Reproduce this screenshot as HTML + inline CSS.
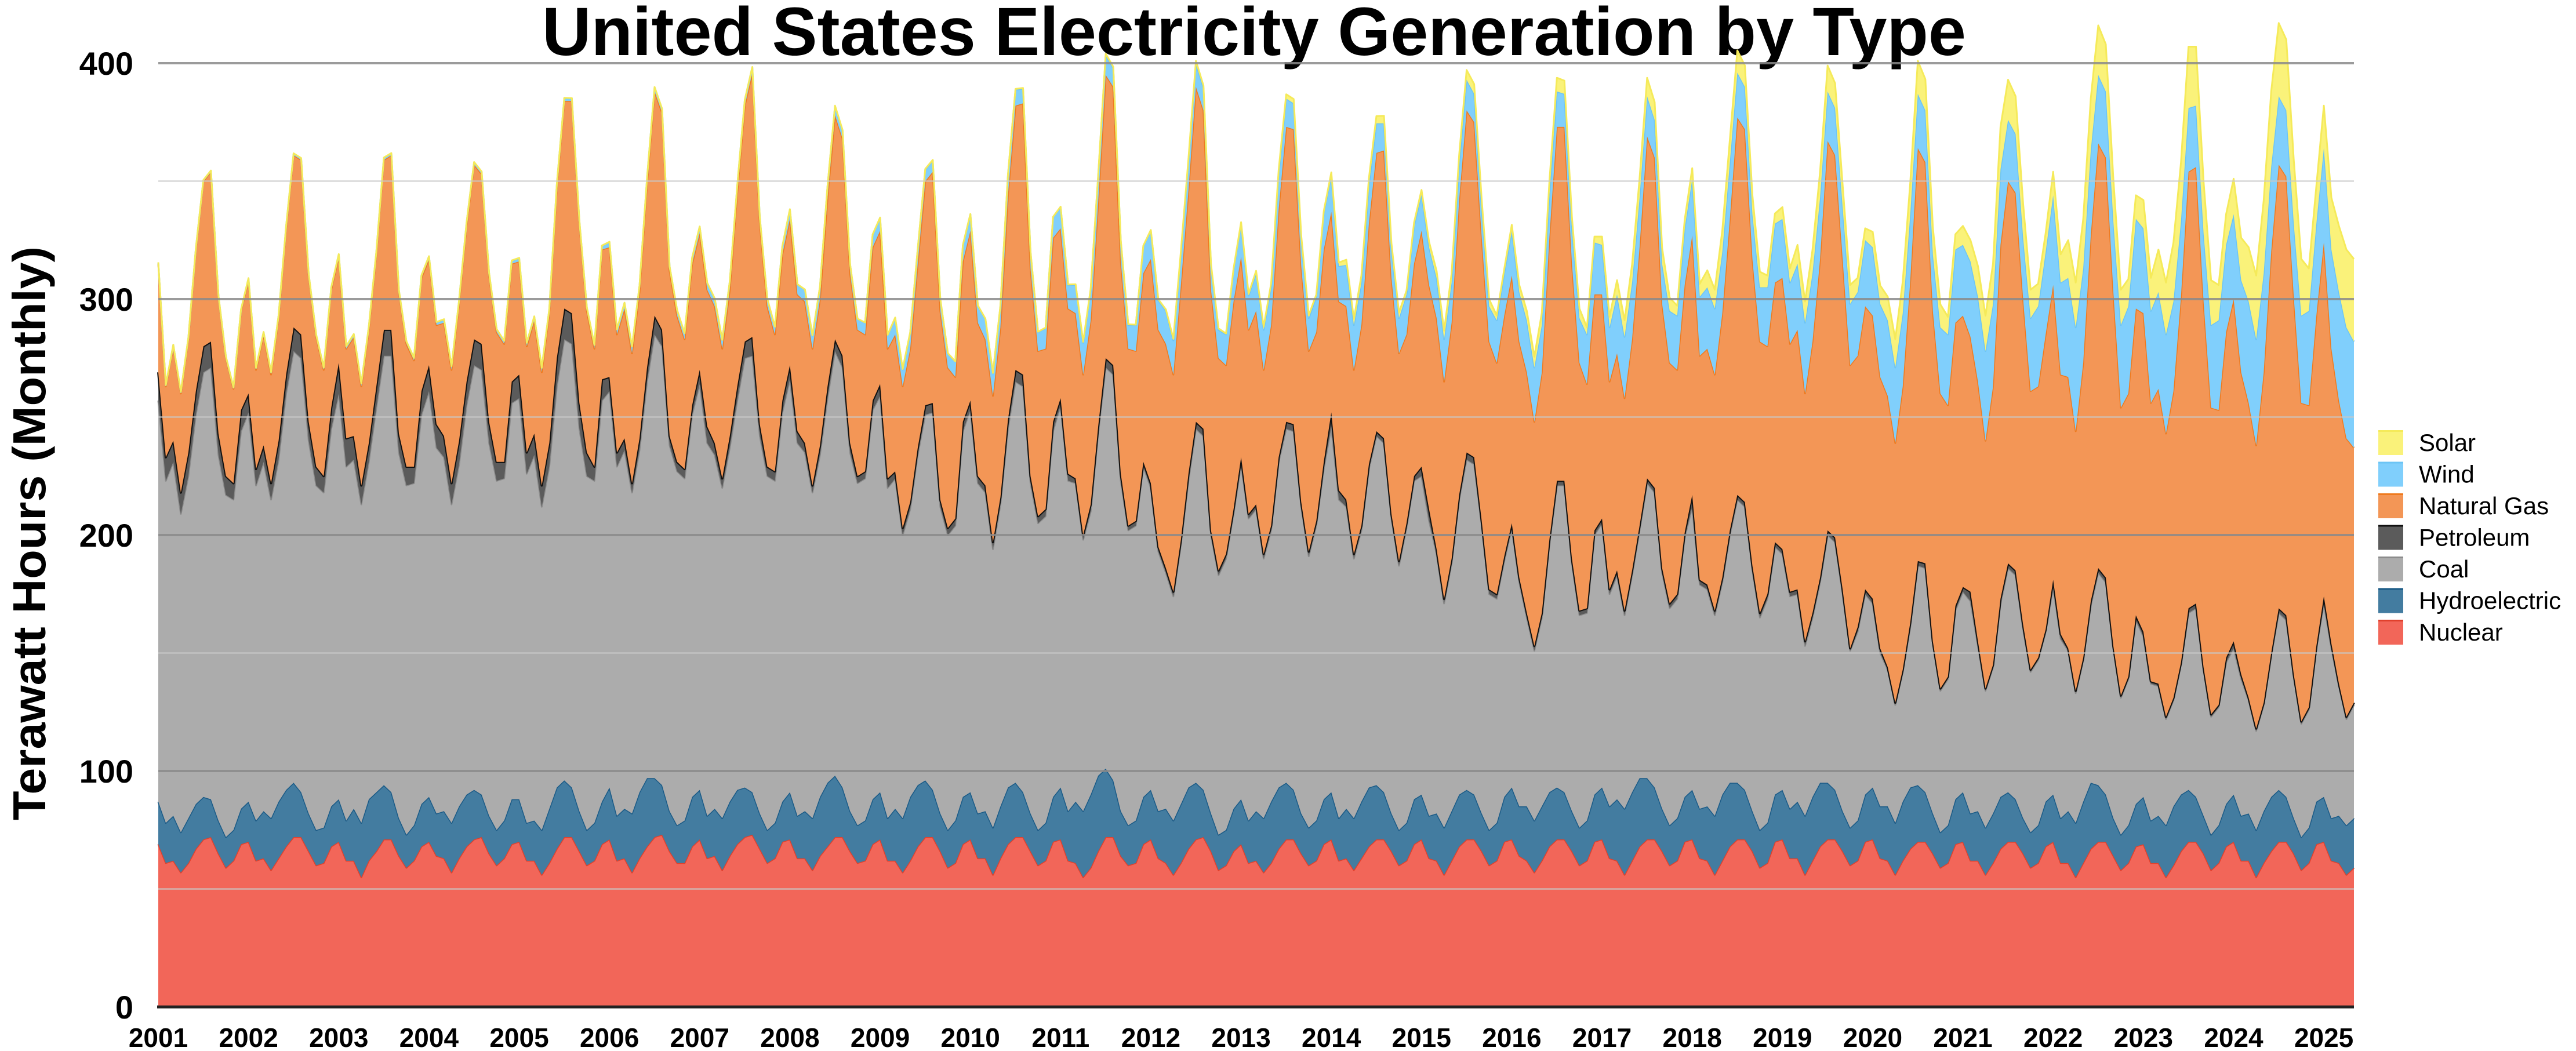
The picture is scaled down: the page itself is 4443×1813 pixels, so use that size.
<!DOCTYPE html>
<html><head><meta charset="utf-8"><style>
html,body{margin:0;padding:0;background:#fff;}
svg{display:block;font-family:"Liberation Sans",Arial,sans-serif;}
</style></head><body>
<svg id="chart" width="4443" height="1813" viewBox="0 0 4443 1813" xmlns="http://www.w3.org/2000/svg">
<text x="2163" y="95" text-anchor="middle" font-size="118" font-weight="bold" textLength="2456" lengthAdjust="spacingAndGlyphs">United States Electricity Generation by Type</text>
<text transform="translate(78,920) rotate(-90)" text-anchor="middle" font-size="80" font-weight="bold" textLength="990" lengthAdjust="spacingAndGlyphs">Terawatt Hours (Monthly)</text>
<g id="areas"></g>
<g id="grid"></g>
<g id="yticks"></g>
<g id="xticks"></g>
<g id="legend"></g>
</svg>
<script>
const seriesNames = ["Nuclear","Hydroelectric","Coal","Petroleum","Natural Gas","Wind","Solar"];
const yTicks = [0,100,200,300,400];
const yearLabels = ["2001","2002","2003","2004","2005","2006","2007","2008","2009","2010","2011","2012","2013","2014","2015","2016","2017","2018","2019","2020","2021","2022","2023","2024","2025"];
const nuclear = [
69,61,62,57,61,67,71,72,65,59,62,69,
70,62,63,58,63,68,72,72,66,60,61,68,
70,62,62,55,62,66,71,71,64,59,62,68,
70,64,63,57,63,68,71,72,65,60,63,69,
70,62,62,56,61,67,72,72,66,60,62,69,
71,62,63,57,63,68,72,73,66,61,61,68,
71,63,64,58,64,69,72,73,67,61,63,70,
71,63,63,58,64,68,72,72,66,61,62,69,
71,62,62,57,62,68,72,72,66,59,61,69,
71,63,63,56,63,69,72,72,66,60,62,70,
71,62,61,55,59,66,72,72,64,60,61,69,
71,63,61,56,61,67,71,72,66,58,60,66,
69,61,62,57,61,67,71,71,65,60,62,69,
71,62,63,58,63,68,71,71,66,60,62,69,
71,63,62,56,62,68,71,71,66,60,62,70,
71,64,62,57,62,68,71,71,66,60,62,70,
71,63,62,56,62,68,71,71,66,60,62,70,
71,63,62,56,62,68,71,71,66,59,61,70,
71,63,63,56,62,68,71,71,66,60,62,70,
71,63,62,56,62,67,70,70,65,59,61,69,
70,62,62,56,61,67,70,70,65,59,61,68,
70,61,61,55,61,67,70,70,64,58,61,68,
69,61,61,55,60,66,70,70,65,58,61,68,
70,62,62,55,61,66,70,70,65,58,61,69,
70,62,61,56,59];
const hydro = [
18,17,19,17,19,19,18,16,14,13,13,15,
17,17,20,22,24,24,23,19,16,15,15,17,
18,17,22,23,26,25,23,20,16,14,15,18,
19,18,20,21,22,22,21,18,16,15,16,19,
18,16,17,19,23,26,24,21,17,15,16,18,
22,19,21,25,28,29,25,21,17,16,18,21,
21,18,20,22,23,23,21,18,15,14,15,17,
20,18,20,22,25,27,26,21,17,16,17,19,
20,18,22,23,27,26,24,20,16,16,18,20,
20,19,20,20,22,24,23,19,16,15,16,19,
22,21,26,28,31,32,29,24,19,17,18,20,
21,20,23,23,25,26,24,20,16,15,15,18,
19,18,21,23,26,26,24,21,17,16,17,19,
20,18,21,22,24,25,23,20,16,15,16,19,
19,18,20,20,21,22,21,19,16,15,16,19,
22,21,23,22,23,23,22,20,17,16,17,20,
22,22,26,28,29,29,26,22,18,17,18,19,
21,21,23,25,28,27,24,21,17,16,17,20,
21,21,24,25,27,27,24,21,17,16,17,20,
22,22,23,22,25,26,24,21,17,15,16,19,
21,20,21,20,21,22,21,18,15,15,16,19,
20,19,22,23,26,28,24,20,16,15,16,18,
20,18,20,22,25,24,22,19,16,15,16,18,
20,19,20,20,22,23,22,19,15,14,15,18,
19,18,20,21,21];
const coal = [
170,145,150,135,145,165,180,183,155,145,140,160,
165,142,148,135,145,168,183,184,158,146,142,160,
172,150,148,135,143,163,182,185,155,148,145,165,
172,155,150,135,145,165,180,180,158,148,145,168,
170,148,155,137,145,170,187,188,162,150,145,170,
168,148,152,136,145,168,188,186,155,150,145,162,
172,158,150,140,150,165,182,185,160,150,145,165,
175,158,152,138,145,163,180,178,152,145,145,165,
168,140,140,120,122,140,155,160,130,125,125,155,
162,140,135,118,128,152,170,172,140,130,130,155,
162,140,135,115,120,145,170,172,140,125,125,140,
128,110,100,95,110,130,150,150,118,110,115,125,
142,128,128,110,115,138,150,152,130,115,125,140,
155,135,128,110,115,135,148,148,125,112,125,135,
135,125,110,95,105,125,140,140,122,100,95,100,
110,95,80,72,80,105,128,130,105,90,88,110,
112,90,95,82,92,105,125,125,100,92,93,110,
120,95,92,85,90,105,120,120,102,90,95,105,
100,90,88,72,76,85,105,105,92,75,80,85,
78,65,58,50,55,68,93,95,72,60,62,80,
85,90,70,58,62,82,95,95,80,68,70,72,
88,76,68,55,60,75,90,90,72,58,62,78,
68,58,55,45,45,55,75,80,62,50,50,60,
62,58,48,42,45,60,75,75,60,48,50,65,
82,72,55,45,48];
const petroleum = [
12,10,9,9,10,10,11,11,9,8,7,9,
8,7,7,7,8,8,10,10,8,8,7,9,
13,12,10,8,8,9,11,11,8,8,7,10,
11,10,9,9,10,10,11,11,9,8,7,9,
10,9,9,9,10,12,13,13,11,10,6,9,
6,6,5,4,5,6,8,7,4,4,4,4,
6,7,5,4,5,6,7,8,5,4,4,5,
6,5,4,3,4,5,5,5,4,3,3,4,
5,4,3,3,3,3,4,4,3,3,3,4,
4,3,3,3,3,4,5,5,3,3,3,4,
3,3,2,2,3,3,4,4,3,2,2,2,
2,2,2,2,2,3,3,3,2,2,2,2,
3,2,2,2,2,2,3,3,2,2,2,3,
6,4,3,2,2,2,2,2,2,2,2,2,
4,5,2,2,2,2,3,3,2,2,2,2,
2,2,2,2,2,2,2,2,2,2,2,2,
2,2,2,2,2,2,2,2,2,2,2,2,
5,2,2,2,2,2,2,2,2,2,2,2,
2,2,2,2,2,2,2,2,2,1,2,2,
2,2,1,1,1,2,2,2,1,1,1,2,
2,4,2,1,1,2,2,2,2,1,1,1,
3,2,1,1,1,2,2,2,1,1,1,2,
2,1,1,1,1,1,2,2,1,1,1,2,
3,2,1,1,1,1,2,2,1,1,1,1,
3,2,1,1,1];
const naturalGas = [
46,30,40,42,48,60,70,72,58,50,40,42,
48,42,47,46,52,62,73,74,62,55,45,50,
45,38,42,42,48,56,72,74,60,52,45,48,
45,42,48,48,58,66,74,72,62,55,50,50,
48,45,48,48,55,72,88,90,76,60,50,55,
55,50,55,55,62,78,95,92,70,62,55,60,
58,58,58,55,62,82,100,112,85,68,58,62,
62,58,60,58,62,80,95,92,72,62,58,65,
65,55,58,60,65,78,95,98,80,68,60,68,
72,65,62,62,72,95,112,115,88,70,68,78,
72,70,70,68,78,95,120,118,90,75,72,80,
95,92,95,92,108,120,142,135,102,90,80,88,
85,78,82,78,85,105,125,125,100,85,80,90,
85,80,82,78,85,102,118,122,100,88,80,90,
100,95,98,92,100,125,145,142,120,105,98,102,
105,100,102,95,102,128,150,150,125,105,95,100,
95,88,92,90,98,118,145,140,112,102,95,105,
110,95,100,100,112,132,160,158,130,115,105,110,
115,105,110,105,115,135,165,162,140,120,115,120,
120,115,115,110,120,145,175,170,140,125,115,120,
115,108,110,105,118,150,162,160,138,118,115,125,
125,110,115,110,125,155,180,178,150,122,120,130,
135,118,125,120,130,155,185,185,155,130,125,138,
145,128,125,120,140,170,188,186,160,135,128,140,
150,125,120,118,108];
const wind = [
.5,.5,.6,.6,.6,.5,.4,.4,.4,.5,.5,.5,
.8,.8,1,1,1,.9,.7,.7,.7,.8,.9,.9,
1,1,1.1,1.2,1.2,1,.9,.8,.8,1,1,1,
1.1,1.2,1.4,1.5,1.4,1.3,1,1,1,1.2,1.2,1.3,
1.4,1.4,1.6,1.8,1.7,1.6,1.2,1.1,1.2,1.4,1.5,1.6,
2.2,2.1,2.4,2.8,2.6,2.3,1.8,1.6,1.8,2.2,2.4,2.5,
2.7,2.8,3.2,3.6,3.5,3,2.4,2.3,2.6,3,3.2,3.4,
4,4.2,5,5.5,5.2,4.8,3.8,3.5,3.8,4.6,5,5.3,
5.5,5.8,7,7.2,6.8,6.2,5,4.8,5,6,6.5,6.8,
7,7.2,8.5,9.5,9,8.5,6.8,6.2,7,8,8.8,8.8,
9,10,12,13.5,13,11,8.5,8,8.5,10,11,11.5,
12,12.5,14,14.5,13.5,12.5,10,9.5,10,12,13,13.5,
14,14.5,16,17,16,15,12,11,11.5,14,15,15.5,
15.5,15,17.5,19,18,16,12.5,11.5,12,15,17,16,
15.5,16,17,18,17,15,13,12,12.5,15,18,18,
19,21,22,23,20,18,15,14,15,19,21,22,
21,23,25,26,24,21,17,16,17,22,23,24,
24,25,26,28,26,24,19,18,19,23,25,25,
25,26,28,30,29,26,21,20,22,26,27,28,
29,31,32,32,31,28,23,22,24,28,30,31,
30,32,36,38,35,32,26,25,26,31,34,35,
38,39,42,44,40,36,29,28,30,35,37,38,
36,39,41,42,38,32,27,26,29,35,38,37,
36,39,43,45,42,36,29,28,31,37,40,39,
40,42,46,47,45];
const solar = [
.1,.1,.1,.1,.1,.1,.1,.1,.1,.1,.1,.1,
.1,.1,.1,.1,.1,.1,.1,.1,.1,.1,.1,.1,
.1,.1,.1,.1,.1,.1,.1,.1,.1,.1,.1,.1,
.1,.1,.1,.1,.1,.1,.1,.1,.1,.1,.1,.1,
.1,.1,.1,.1,.1,.1,.1,.1,.1,.1,.1,.1,
.1,.1,.1,.1,.1,.1,.1,.1,.1,.1,.1,.1,
.1,.1,.1,.1,.1,.1,.1,.1,.1,.1,.1,.1,
.1,.1,.1,.1,.2,.2,.2,.2,.1,.1,.1,.1,
.1,.1,.2,.2,.2,.2,.2,.2,.2,.1,.1,.1,
.1,.1,.2,.2,.3,.3,.3,.3,.2,.2,.1,.1,
.2,.2,.3,.4,.5,.5,.5,.5,.4,.3,.2,.2,
.3,.4,.6,.7,.9,1,1,1,.8,.6,.4,.4,
.6,.7,1,1.3,1.6,1.7,1.8,1.8,1.5,1.2,.9,.8,
1.2,1.5,2.2,2.6,3,3.1,3.1,3.2,2.8,2.3,1.6,1.4,
1.8,2.3,3,3.6,3.9,4,4.1,4.1,3.6,2.9,2.1,1.8,
2.5,3,4,4.6,5.2,5.6,5.8,5.6,4.8,4,3,2.5,
3.5,4.5,6,7,7.8,8.2,7.8,7.5,6.6,5.6,4.2,3.6,
4.5,5.5,7.2,8,9.2,9.6,9.4,9,8,6.6,5,4.3,
5,6,8,9,10,11,11,10.5,9.5,8,6,5,
6.5,7.8,10,12,13.5,13.5,14,13.2,11.5,9.8,7.5,6.5,
8,9,13,15,17,18,17,16,14.5,12,9.5,8,
10,12,16,19,21,22,21,20,18,15,11.5,10,
12,14,18,22,25,25,26,25,22,19,15,13,
15,18,23,27,31,32,31,30,27,24,18,16,
18,22,28,33,35];

const NS="http://www.w3.org/2000/svg";
const X0=273, X1=4060, Y0=1737, PXPER=4.07;
const series=[nuclear,hydro,coal,petroleum,naturalGas,wind,solar];
const fills=["#f26659","#437ca0","#acacac","#5b5b5b","#f39656","#80cffc","#faf27a"];
const strokes=["#e0402c","#1a5a86","#8c8c8c","#111111","#ef7a1e","#6cc4f5","#f5ea5a"];
const slugs=["nuclear","hydroelectric","coal","petroleum","natural-gas","wind","solar"];
const n=nuclear.length;
function xS(i){return X0+i*(X1-X0)/(n-1);}
function yS(v){return Y0-v*PXPER;}
function el(t,a){const e=document.createElementNS(NS,t);for(const k in a)e.setAttribute(k,a[k]);return e;}

const areas=document.getElementById('areas');
let base=new Array(n).fill(0);
series.forEach((s,si)=>{
  const top=base.map((b,i)=>b+s[i]);
  let d="M"+xS(0)+","+yS(top[0]);
  for(let i=1;i<n;i++)d+="L"+xS(i).toFixed(1)+","+yS(top[i]).toFixed(1);
  for(let i=n-1;i>=0;i--)d+="L"+xS(i).toFixed(1)+","+yS(base[i]).toFixed(1);
  d+="Z";
  const p=el('path',{d:d,fill:fills[si]});
  
  
  areas.appendChild(p);
  let l="M"+xS(0)+","+yS(top[0]);
  for(let i=1;i<n;i++)l+="L"+xS(i).toFixed(1)+","+yS(top[i]).toFixed(1);
  const ln=el('path',{d:l,fill:'none',stroke:strokes[si],'stroke-width':si===3?4:3,'stroke-linejoin':'round'});
  
  
  areas.appendChild(ln);
  base=top;
});

const grid=document.getElementById('grid');
for(let v=50;v<=400;v+=50){
  const major=v%100===0;
  const g=el('line',{x1:X0,x2:X1,y1:yS(v),y2:yS(v),stroke:major?'#8a8a8a':'#c8c8c8','stroke-opacity':major?0.85:0.6,'stroke-width':major?4:3});
  
  
  grid.appendChild(g);
}
const ax=el('line',{x1:X0-2,x2:X1,y1:Y0,y2:Y0,stroke:'#222','stroke-width':5});


grid.appendChild(ax);

const yt=document.getElementById('yticks');
yTicks.forEach(v=>{
  const t=el('text',{x:230,y:yS(v)+20,'text-anchor':'end','font-size':56,'font-weight':'bold'});
  t.textContent=String(v);
  
  
  yt.appendChild(t);
});
const xt=document.getElementById('xticks');
yearLabels.forEach((lab,k)=>{
  const t=el('text',{x:xS(k*12),y:1806,'text-anchor':'middle','font-size':46,'font-weight':'bold'});
  t.textContent=lab;
  
  
  xt.appendChild(t);
});

const lg=document.getElementById('legend');
const order=[6,5,4,3,2,1,0];
order.forEach((si,k)=>{
  const y=742+k*54.5;
  const r=el('rect',{x:4102,y:y,width:43,height:43,fill:fills[si]});
  
  
  lg.appendChild(r);
  const b=el('rect',{x:4102,y:y,width:43,height:3,fill:strokes[si]});
  
  
  lg.appendChild(b);
  const t=el('text',{x:4172,y:y+36,'font-size':42});
  t.textContent=seriesNames[si];
  
  
  lg.appendChild(t);
});
</script>
</body></html>
